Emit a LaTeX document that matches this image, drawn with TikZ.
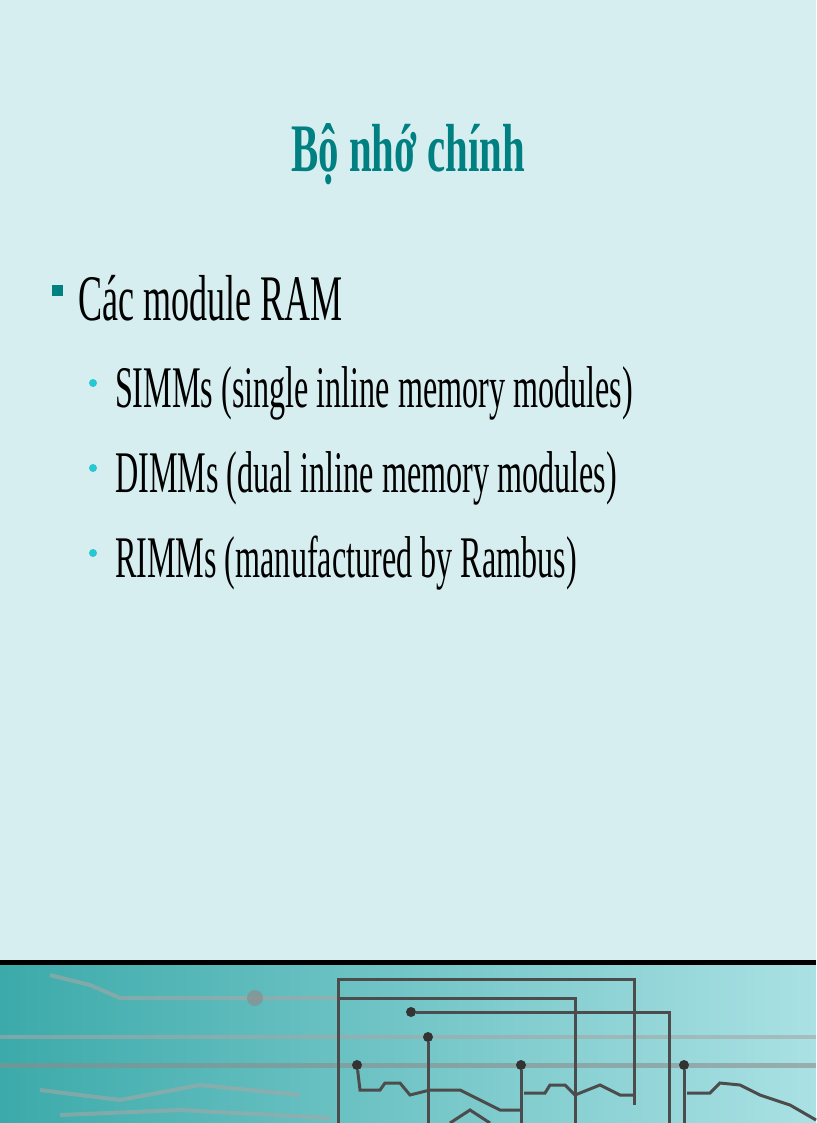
\documentclass[tikz,border=0pt]{standalone}
\usepackage{fontspec}
\setmainfont{Liberation Serif}
\begin{document}
\begin{tikzpicture}[x=1pt,y=-1pt,
  wire/.style={line width=3pt,draw=black!70},
  fwire/.style={line width=4pt,draw=black!35,opacity=0.6},
  dot/.style={circle,fill=black!80,inner sep=0pt,minimum size=10pt},
  sub/.style={anchor=base west,font=\fontsize{59}{60}\selectfont,xscale=0.545,inner sep=0pt},
  bul/.style={circle,fill={rgb,255:red,40;green,200;blue,210},inner sep=0pt,minimum size=8pt}]
\useasboundingbox (0,0) rectangle (816,1123);
\fill[fill={rgb,255:red,215;green,238;blue,241}] (0,0) rectangle (816,1123);
% bottom band
\shade[left color={rgb,255:red,60;green,170;blue,170}, right color={rgb,255:red,170;green,225;blue,228}] (0,965) rectangle (816,1123);
\draw[line width=5pt] (0,962) -- (816,962);
% blurry left lines
\draw[fwire] (50,975) -- (90,985) -- (120,998) -- (338,998);
\draw[fwire] (0,1037) -- (816,1037);
\draw[line width=5pt,draw=black!45,opacity=0.6] (0,1065) -- (816,1065);
\draw[fwire] (40,1090) -- (120,1100) -- (200,1085) -- (300,1095);
\draw[fwire] (60,1115) -- (180,1110) -- (330,1118);
\node[circle,fill=black!45,opacity=.7,minimum size=16pt,inner sep=0pt] (fd) at (255,998) {};
% circuit wires
\coordinate (a1) at (338,1123); \coordinate (a2) at (338,979); \coordinate (a3) at (634,979); \coordinate (a4) at (634,1105);
\draw[wire] (a1) -- (a2) -- (a3) -- (a4);
\coordinate (b1) at (338,998); \coordinate (b2) at (575,998); \coordinate (b3) at (575,1123);
\draw[wire] (b1) -- (b2) -- (b3);
\node[dot] (d1) at (411,1012) {};
\coordinate (c2) at (669,1012); \coordinate (c3) at (669,1123);
\draw[wire] (d1) -- (c2) -- (c3);
\node[dot] (d2) at (428,1037) {};
\coordinate (e1) at (428,1123);
\draw[wire] (d2) -- (e1);
\node[dot] (d3) at (357,1065) {};
\node[dot] (d4) at (521,1065) {};
\node[dot] (d5) at (684,1065) {};
\coordinate (f1) at (521,1123); \coordinate (f2) at (684,1123);
\draw[wire] (d4) -- (f1); \draw[wire] (d5) -- (f2);
\draw[wire] (d3) -- (360,1090) -- (380,1090) -- (385,1083) -- (400,1083) -- (410,1095) -- (430,1090) -- (460,1090) -- (500,1110) -- (521,1110);
\draw[wire] (524,1093) -- (545,1093) -- (550,1085) -- (565,1085) -- (575,1095) -- (600,1085) -- (620,1095) -- (634,1095);
\draw[wire] (687,1093) -- (710,1093) -- (720,1083) -- (740,1085) -- (760,1095) -- (790,1105) -- (816,1120);
\draw[wire] (450,1123) -- (470,1110) -- (490,1123);
% text
\node[anchor=base,font=\bfseries\fontsize{68}{70}\selectfont,xscale=0.6,text={rgb,255:red,0;green,128;blue,128},inner sep=0pt] (title) at (408,172) {Bộ nhớ chính};
\node[rectangle,fill={rgb,255:red,0;green,128;blue,128},minimum size=11pt,inner sep=0pt] (b0) at (57,290) {};
\node[anchor=base west,font=\fontsize{65}{66}\selectfont,xscale=0.555,inner sep=0pt] (t0) at (78,320) {Các module RAM};
\node[bul] (b1n) at (93,383) {};
\node[sub] (t1) at (115,407) {SIMMs (single inline memory modules)};
\node[bul] (b2n) at (93,468) {};
\node[sub] (t2) at (115,492) {DIMMs (dual inline memory modules)};
\node[bul] (b3n) at (93,553) {};
\node[sub] (t3) at (115,577) {RIMMs (manufactured by Rambus)};
\end{tikzpicture}
\end{document}
